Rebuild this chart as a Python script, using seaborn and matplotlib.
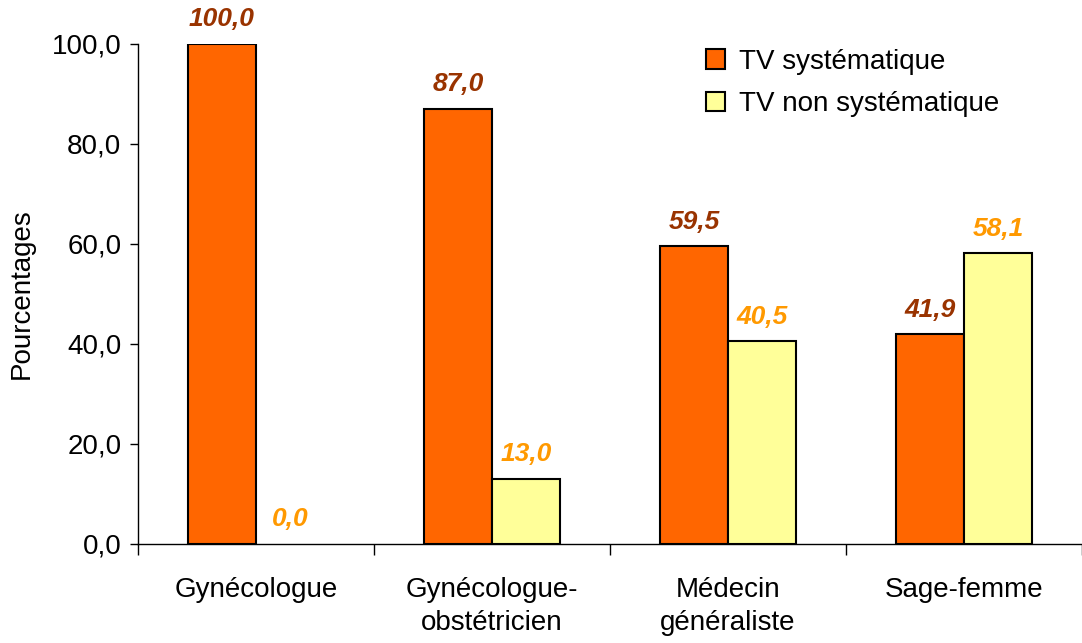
import pandas as pd
import matplotlib.pyplot as plt
import seaborn as sns

categories = ["Gynécologue", "Gynécologue-\nobstétricien", "Médecin\ngénéraliste", "Sage-femme"]
series = ["TV systématique", "TV non systématique"]
systematique = [100.0, 87.0, 59.5, 41.9]
non_systematique = [0.0, 13.0, 40.5, 58.1]

bar_colors = ["#FF6600", "#FFFF99"]
label_colors = ["#993300", "#FF9900"]

df = pd.DataFrame({
    "categorie": categories * 2,
    "type": [series[0]] * 4 + [series[1]] * 4,
    "valeur": systematique + non_systematique,
})

sns.set_style("white")
plt.rcParams["font.family"] = ["Liberation Sans", "DejaVu Sans"]
plt.rcParams["text.color"] = "black"
plt.rcParams["axes.labelcolor"] = "black"
plt.rcParams["xtick.color"] = "black"
plt.rcParams["ytick.color"] = "black"

fig = plt.figure(figsize=(10.82, 6.43), dpi=100)
ax = fig.add_axes([0.1275, 0.154, 0.8725, 0.778])

sns.barplot(data=df, x="categorie", y="valeur", hue="type", order=categories,
            hue_order=series, palette=bar_colors, width=0.576, gap=0,
            edgecolor="black", linewidth=1.5, saturation=1, ax=ax)

# value labels above each bar
for container, col in zip(ax.containers, label_colors):
    labels = [f"{v:.1f}".replace(".", ",") for v in container.datavalues]
    ax.bar_label(container, labels=labels, padding=9, color=col,
                 fontsize=19, fontweight="bold", fontstyle="italic")
    # zero bars are not drawn in the original
    for patch, v in zip(container.patches, container.datavalues):
        if v == 0:
            patch.set_visible(False)

ax.set_xlim(-0.5, 3.5)
ax.set_ylim(0, 100)
ax.set_yticks([0, 20, 40, 60, 80, 100])
ax.set_yticklabels([f"{v:.1f}".replace(".", ",") for v in [0, 20, 40, 60, 80, 100]])
ax.set_xticks(range(4))
ax.set_xticklabels(categories, linespacing=1.35)
ax.set_xticks([-0.5, 0.5, 1.5, 2.5, 3.5], minor=True)
ax.tick_params(axis="x", which="major", length=0, pad=24, labelsize=20)
ax.tick_params(axis="x", which="minor", length=8, width=1, direction="out", bottom=True)
ax.tick_params(axis="y", length=6, width=1, direction="out", left=True, labelsize=20, pad=6)
ax.set_xlabel("")
ax.set_ylabel("Pourcentages", fontsize=20, labelpad=12)

for s in ["top", "right"]:
    ax.spines[s].set_visible(False)
for s in ["left", "bottom"]:
    ax.spines[s].set_color("black")
    ax.spines[s].set_linewidth(1)

ax.legend(loc="upper left", bbox_to_anchor=(0.575, 1.04), frameon=False,
          fontsize=20, handlelength=0.7, handleheight=0.7, handletextpad=0.5,
          labelspacing=0.6)

fig.savefig("out.png", dpi=100)
